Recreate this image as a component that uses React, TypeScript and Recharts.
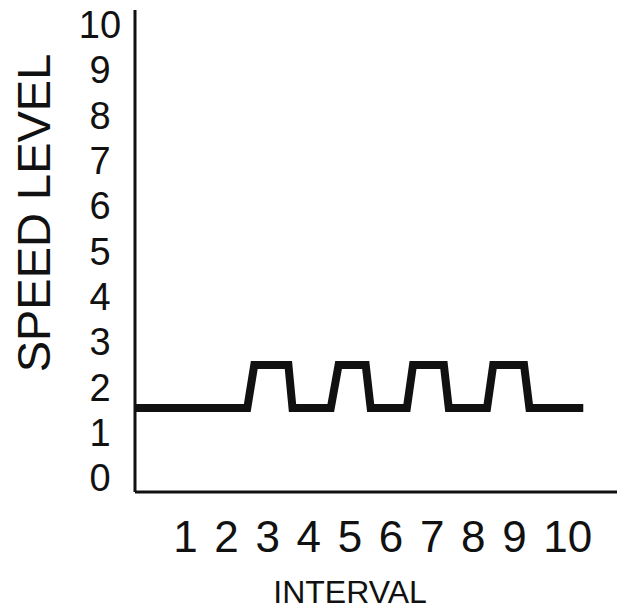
import React from "react"
import { LineChart, Line, XAxis, YAxis, Label } from "recharts"

const intervalTicks = [1, 2, 3, 4, 5, 6, 7, 8, 9, 10]
const speedTicks = [0, 1, 2, 3, 4, 5, 6, 7, 8, 9, 10]

// speed profile: base level with four short bursts
const profileInterval = [-0.22, 2.51, 2.68, 3.51, 3.61, 4.54, 4.73, 5.39, 5.51, 6.39, 6.54, 7.29, 7.41, 8.34, 8.49, 9.24, 9.37, 10.68]
const profileSpeed = [1.55, 1.55, 2.5, 2.5, 1.55, 1.55, 2.5, 2.5, 1.55, 1.55, 2.5, 2.5, 1.55, 1.55, 2.5, 2.5, 1.55, 1.55]

const data = profileInterval.map((x, i) => ({ interval: x, speed: profileSpeed[i] }))

const FONT = "'Liberation Sans', Arial, sans-serif"
const INK = "#111"

// labels are left-aligned at the tick, as in the hand-set original
const XTick = (props: any) => {
	const { x, y, payload } = props
	return (
		<text x={x - 12} y={y} dy={60} textAnchor="start" fontSize={44} fontFamily={FONT} fill={INK}>
			{payload.value}
		</text>
	)
}

const YTick = (props: any) => {
	const { x, y, payload } = props
	return (
		<text x={x - 35} y={y} textAnchor="middle" dominantBaseline="central" fontSize={38} fontFamily={FONT} fill={INK}>
			{payload.value}
		</text>
	)
}

export default function App() {
	return (
		<div style={{ position: "absolute", left: 0, top: 0, width: 624, height: 613, background: "#fff" }}>
			<LineChart width={624} height={613} data={data} margin={{ top: 10, right: 7, bottom: 0, left: 0 }}>
				<XAxis
					dataKey="interval"
					type="number"
					domain={[-0.22, 11.5]}
					ticks={intervalTicks}
					tick={<XTick />}
					tickLine={false}
					tickSize={0}
					tickMargin={0}
					height={121}
					axisLine={{ stroke: INK, strokeWidth: 3 }}
					allowDataOverflow
				>
					<Label
						content={(p: any) => {
							const vb = p.viewBox
							return (
								<text x={vb.x + 215} y={vb.y + 111} textAnchor="middle" fontSize={32} fontFamily={FONT} fill={INK}>
									INTERVAL
								</text>
							)
						}}
					/>
				</XAxis>
				<YAxis
					type="number"
					domain={[-0.3, 10.33]}
					ticks={speedTicks}
					tick={<YTick />}
					tickLine={false}
					tickSize={0}
					tickMargin={0}
					width={135}
					axisLine={{ stroke: INK, strokeWidth: 3 }}
					allowDataOverflow
				>
					<Label
						content={(p: any) => {
							const vb = p.viewBox
							const cx = vb.x + 33
							const cy = vb.y + 203
							return (
								<text x={cx} y={cy} transform={`rotate(-90 ${cx} ${cy})`} textAnchor="middle" dominantBaseline="central" fontSize={47} fontFamily={FONT} fill={INK}>
									SPEED LEVEL
								</text>
							)
						}}
					/>
				</YAxis>
				<Line
					type="linear"
					dataKey="speed"
					stroke={INK}
					strokeWidth={8}
					dot={false}
					activeDot={false}
					isAnimationActive={false}
				/>
			</LineChart>
		</div>
	)
}
